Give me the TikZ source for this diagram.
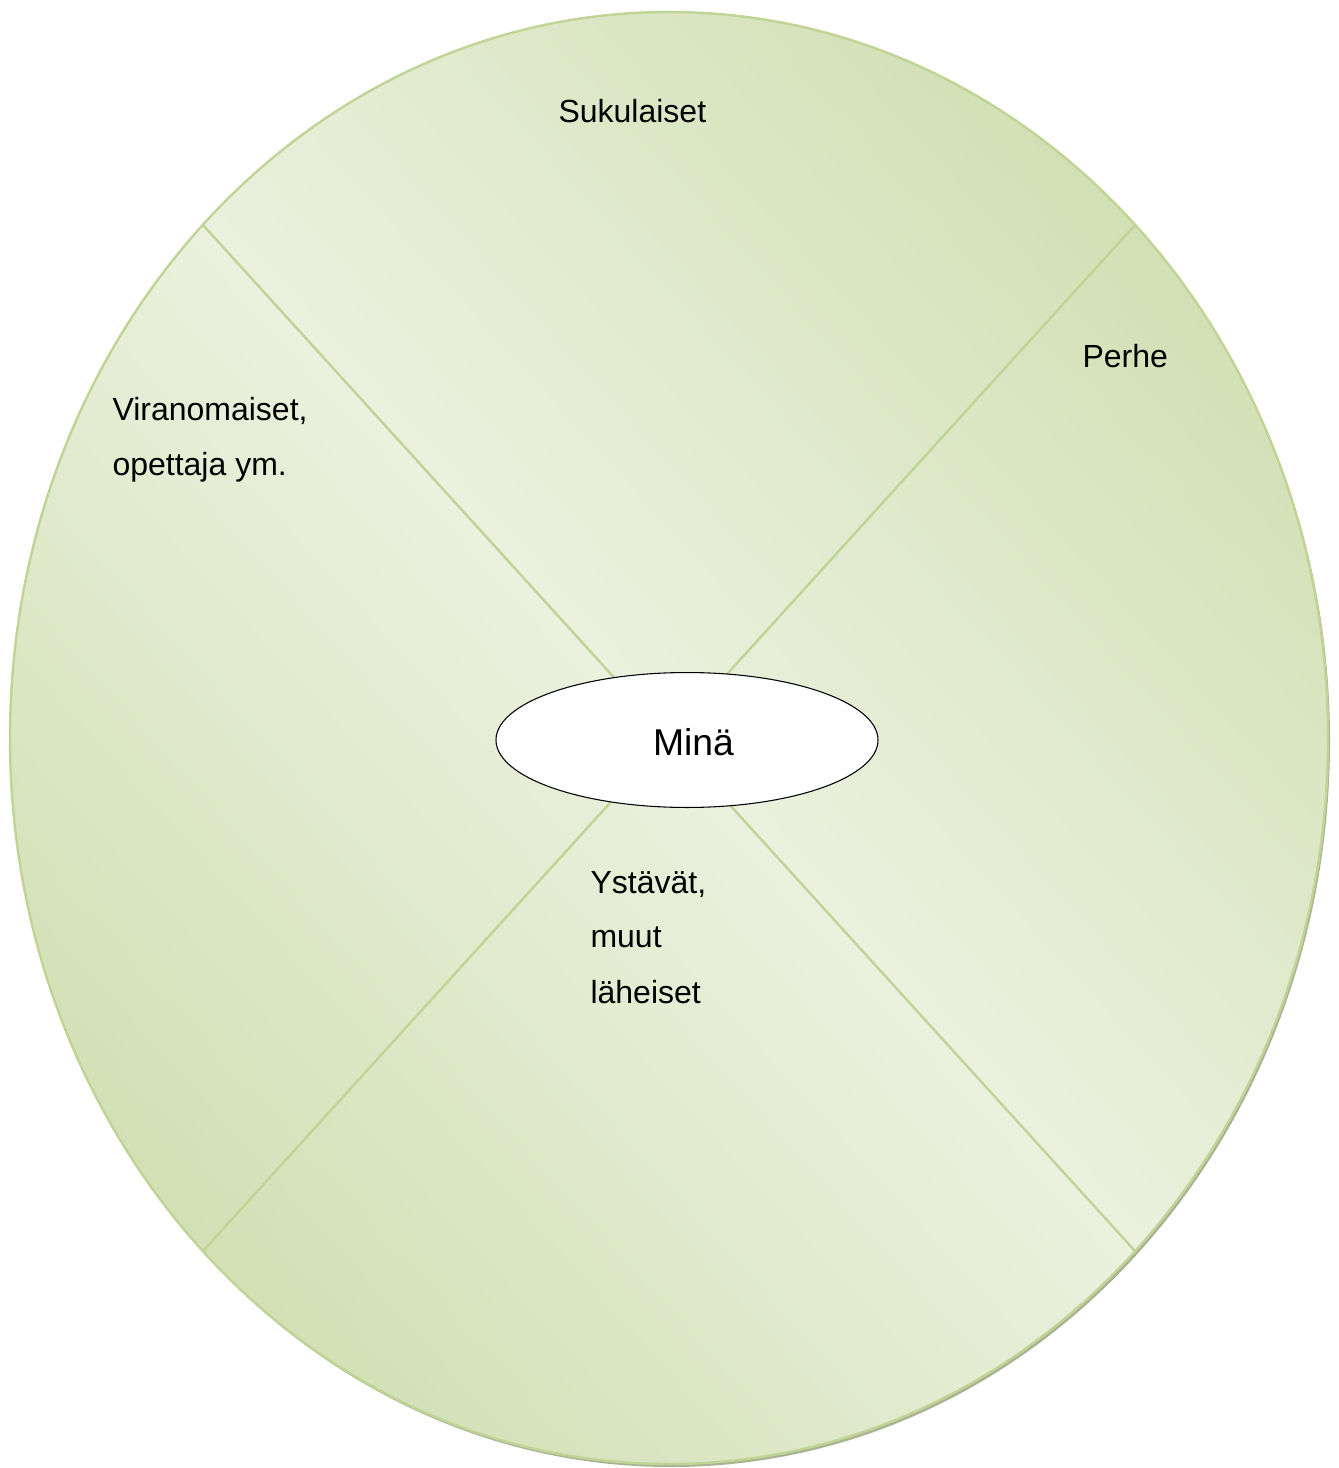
\documentclass[tikz,border=0pt]{standalone}
\usepackage{fontspec}
\setmainfont{Liberation Sans}
\usetikzlibrary{shapes.geometric}
\definecolor{qdark}{HTML}{C8D9A4}
\definecolor{qlight}{HTML}{EBF1DE}
\definecolor{qline}{HTML}{BFD495}
\definecolor{qshadow}{HTML}{A9B394}
\pgfdeclareverticalshading{quadshade}{100bp}{color(0bp)=(qdark); color(14.64bp)=(qdark); color(50bp)=(qlight); color(85.36bp)=(qdark); color(100bp)=(qdark)}
\tikzset{
  divider/.style={draw=qline, line width=0.9pt},
  rim/.style={draw=qline, line width=0.9pt},
  lbl/.style={anchor=base west, inner sep=0pt, font=\fontsize{12pt}{14pt}\selectfont, text=black},
  centre/.style={ellipse, draw=black, line width=0.4pt, fill=white, minimum width=143.25pt, minimum height=50.6pt, inner sep=0pt}
}
\begin{document}
\begin{tikzpicture}[x=0.375pt,y=-0.375pt]
\useasboundingbox (0,0) rectangle (1338,1468);
% shadow
\fill[qshadow] (671,741) ellipse [x radius=659, y radius=726];
% shaded body
\begin{scope}[transform canvas={shift={(669,738)}, xscale=2.47125, yscale=2.7225}]
  \shade[shading=quadshade, shading angle=-45] (0pt,0pt) circle (100pt);
\end{scope}
\draw[rim] (669,738) ellipse [x radius=659, y radius=726];
% dividers
\coordinate (tl) at (203,225);
\coordinate (br) at (1135,1251);
\coordinate (tr) at (1135,225);
\coordinate (bl) at (203,1251);
\draw[divider] (tl) -- (br);
\draw[divider] (tr) -- (bl);
% centre
\node[centre] (mina) at (687,740) {};
\node[anchor=base, inner sep=0pt, font=\fontsize{14pt}{16pt}\selectfont] (minatext) at (693.5,755) {Minä};
% labels
\node[lbl] (suku) at (558,123) {Sukulaiset};
\node[lbl] (perhe) at (1082,368) {Perhe};
\node[lbl] (vir1) at (112,421) {Viranomaiset,};
\node[lbl] (vir2) at (112,475) {opettaja ym.};
\node[lbl] (yst1) at (590,893) {Ystävät,};
\node[lbl] (yst2) at (590,947) {muut};
\node[lbl] (yst3) at (590,1003) {läheiset};
\end{tikzpicture}
\end{document}
